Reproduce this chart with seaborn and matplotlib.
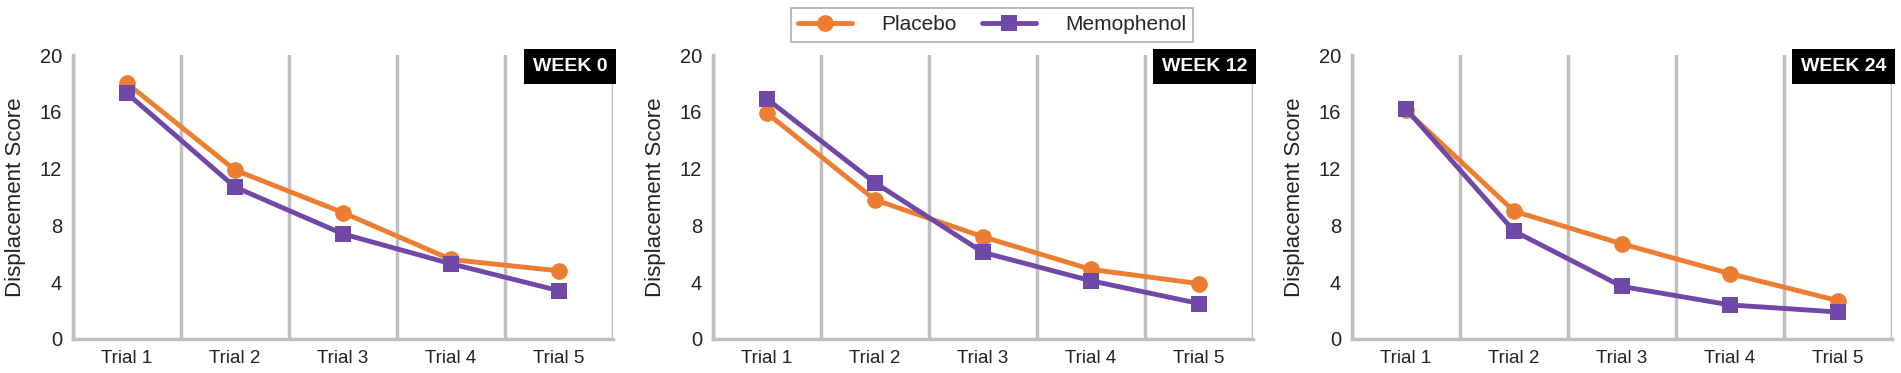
import matplotlib
matplotlib.use("Agg")
import matplotlib.pyplot as plt
import seaborn as sns
import pandas as pd
from matplotlib.lines import Line2D

sns.set_theme(style="white")
plt.rcParams['font.family'] = ['Liberation Sans', 'DejaVu Sans']

trials = ["Trial 1", "Trial 2", "Trial 3", "Trial 4", "Trial 5"]
weeks = ["WEEK 0", "WEEK 12", "WEEK 24"]
placebo = [
    [18.0, 11.9, 8.9, 5.6, 4.8],
    [15.9, 9.8, 7.2, 4.9, 3.9],
    [16.1, 9.0, 6.7, 4.6, 2.7],
]
memophenol = [
    [17.3, 10.7, 7.4, 5.3, 3.4],
    [16.9, 11.0, 6.1, 4.1, 2.5],
    [16.2, 7.6, 3.7, 2.4, 1.9],
]
groups = ["Placebo", "Memophenol"]
yticks = [0, 4, 8, 12, 16, 20]

ORANGE = "#ED7D31"
PURPLE = "#7048A8"
GRID = "#BFBFBF"

fig = plt.figure(figsize=(19.01, 3.73), dpi=100)
lefts = [73, 713, 1352]
for i, wk in enumerate(weeks):
    ax = fig.add_axes([lefts[i] / 1901, 34 / 373, 540 / 1901, 284 / 373])
    df = pd.DataFrame({
        "Trial": trials * 2,
        "Score": placebo[i] + memophenol[i],
        "Group": [groups[0]] * 5 + [groups[1]] * 5,
    })
    sns.lineplot(data=df, x="Trial", y="Score", hue="Group", style="Group",
                 markers={"Placebo": "o", "Memophenol": "s"}, dashes=False,
                 palette={"Placebo": ORANGE, "Memophenol": PURPLE},
                 linewidth=3.5, markersize=12, markeredgewidth=0,
                 sort=False, legend=False, ax=ax)
    ax.set_xlim(-0.5, 4.5)
    ax.set_ylim(0, 20)
    ax.set_yticks(yticks)
    ax.set_yticklabels([str(t) for t in yticks], fontsize=14.5, color="#222222")
    ax.set_xticks(range(5))
    ax.set_xticklabels(trials, fontsize=13.5, color="#222222")
    ax.set_xticks([k - 0.5 for k in range(6)], minor=True)
    ax.grid(False)
    ax.xaxis.grid(True, which="minor", color=GRID, linewidth=2.5)
    ax.set_axisbelow(True)
    for s in ["top", "right"]:
        ax.spines[s].set_visible(False)
    for s in ["left", "bottom"]:
        ax.spines[s].set_color(GRID)
        ax.spines[s].set_linewidth(2.5)
    ax.tick_params(axis="both", which="both", length=0, pad=8)
    ax.set_xlabel("")
    ax.set_ylabel("Displacement Score", fontsize=16, color="#222222", labelpad=10)
    ax.text(0.99, 0.99, wk, transform=ax.transAxes, ha="right", va="top",
            fontsize=14, fontweight="bold", color="white",
            bbox=dict(boxstyle="square,pad=0.45", fc="black", ec="none"))

handles = [
    Line2D([], [], color=ORANGE, marker="o", lw=3.5, markersize=12, markeredgewidth=0),
    Line2D([], [], color=PURPLE, marker="s", lw=3.5, markersize=12, markeredgewidth=0),
]
leg = fig.legend(handles, groups, loc="center", bbox_to_anchor=(992 / 1901, 1 - 25 / 373),
                 ncol=2, frameon=True, fontsize=15, handlelength=2.6,
                 columnspacing=1.2, handletextpad=1.4, borderpad=0.35, fancybox=False)
leg.get_frame().set_edgecolor("#999999")
leg.get_frame().set_linewidth(1.2)

fig.savefig("out.png", dpi=100)
